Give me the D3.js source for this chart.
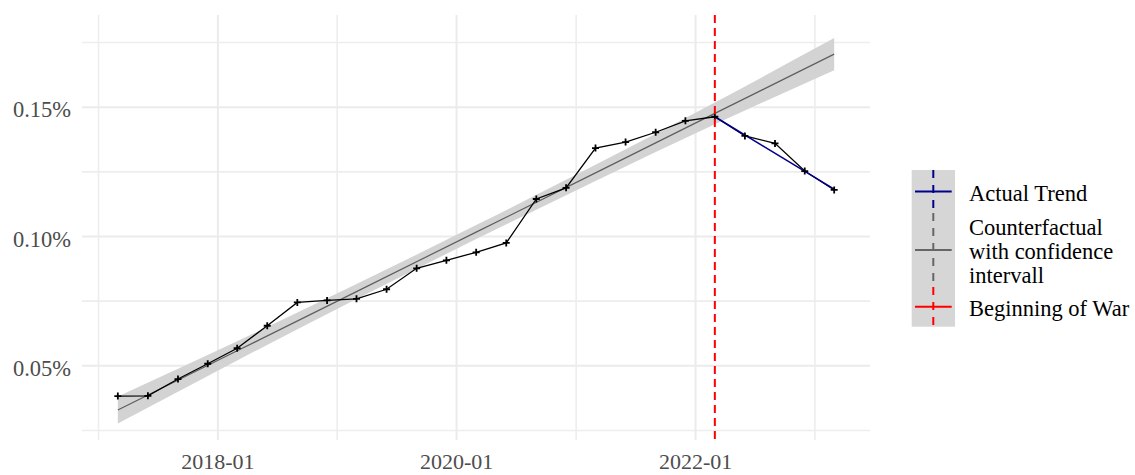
<!DOCTYPE html>
<html>
<head>
<meta charset="utf-8">
<script src="https://cdn.jsdelivr.net/npm/d3@7"></script>
<style>
    body { margin: 0; background: #fff; }
    text { font-family: "Liberation Serif", "Times New Roman", serif; }
</style>
</head>
<body>
<div class="div-chart"></div>
<script>
// observed share (%), quarterly
const obsDates = ["2017-03", "2017-06", "2017-09", "2017-12", "2018-03", "2018-06", "2018-09", "2018-12",
    "2019-03", "2019-06", "2019-09", "2019-12", "2020-03", "2020-06", "2020-09", "2020-12",
    "2021-03", "2021-06", "2021-09", "2021-12", "2022-03", "2022-06", "2022-09", "2022-12", "2023-03"];
const obsValues = [0.0383, 0.0384, 0.0449, 0.0508, 0.0568, 0.0655, 0.0745, 0.0753,
    0.0759, 0.0796, 0.0877, 0.0908, 0.0939, 0.0975, 0.1145, 0.1188,
    0.1342, 0.1365, 0.1403, 0.1447, 0.1463, 0.1389, 0.1360, 0.1253, 0.1180];

// counterfactual fit with confidence band
const cfDates = ["2017-03", "2018-03", "2019-03", "2020-03", "2021-03", "2022-03", "2023-03"];
const cfFit = [0.0329, 0.0558, 0.0787, 0.1017, 0.1246, 0.1476, 0.1705];
const cfLower = [0.0277, 0.0521, 0.0758, 0.0990, 0.1215, 0.1434, 0.1643];
const cfUpper = [0.0381, 0.0595, 0.0816, 0.1044, 0.1277, 0.1518, 0.1767];

// actual trend after the war started
const trendDates = ["2022-03", "2023-03"];
const trendValues = [0.1463, 0.1183];

const warDate = "2022-03";

const yMajor = [0.05, 0.10, 0.15];
const yMinor = [0.025, 0.075, 0.125, 0.175];
const xMajor = ["2018-01", "2020-01", "2022-01"];
const xMinor = ["2017-01", "2019-01", "2021-01", "2023-01"];

const legendLabels = [["Actual Trend"], ["Counterfactual", "with confidence", "intervall"], ["Beginning of War"]];
const legendColors = ["#00008b", "#666666", "#ff0000"];

const parse = d3.timeParse("%Y-%m");
const width = 1135, height = 475;
const panel = { left: 82, right: 870, top: 15, bottom: 440 };

const svg = d3.select('.div-chart')
    .append('svg')
    .attr('width', width)
    .attr('height', height);

// x scale: data range expanded 5% each side
const t0 = parse(obsDates[0]), t1 = parse(obsDates[obsDates.length - 1]);
const pad = (t1 - t0) * 0.05;
const x = d3.scaleTime()
    .domain([new Date(+t0 - pad), new Date(+t1 + pad)])
    .range([panel.left, panel.right]);

const y = d3.scaleLinear()
    .domain([0.02133, 0.18563])
    .range([panel.bottom, panel.top]);

// grid
const grid = svg.append("g");
grid.selectAll(".hminor").data(yMinor).enter().append("line")
    .attr("x1", panel.left).attr("x2", panel.right)
    .attr("y1", d => y(d)).attr("y2", d => y(d))
    .attr("stroke", "#ededed").attr("stroke-width", 1.6);
grid.selectAll(".hmajor").data(yMajor).enter().append("line")
    .attr("x1", panel.left).attr("x2", panel.right)
    .attr("y1", d => y(d)).attr("y2", d => y(d))
    .attr("stroke", "#ebebeb").attr("stroke-width", 2);
grid.selectAll(".vminor").data(xMinor).enter().append("line")
    .attr("x1", d => x(parse(d))).attr("x2", d => x(parse(d)))
    .attr("y1", panel.top).attr("y2", panel.bottom)
    .attr("stroke", "#ededed").attr("stroke-width", 1.6);
grid.selectAll(".vmajor").data(xMajor).enter().append("line")
    .attr("x1", d => x(parse(d))).attr("x2", d => x(parse(d)))
    .attr("y1", panel.top).attr("y2", panel.bottom)
    .attr("stroke", "#ebebeb").attr("stroke-width", 2);

// axis labels
svg.selectAll(".ylab").data(yMajor).enter().append("text")
    .attr("x", 71).attr("y", d => y(d) + 10)
    .attr("text-anchor", "end")
    .attr("font-size", "22.5px").attr("fill", "#4d4d4d")
    .text(d => d.toFixed(2) + "%");
svg.selectAll(".xlab").data(xMajor).enter().append("text")
    .attr("x", d => x(parse(d))).attr("y", 469)
    .attr("text-anchor", "middle")
    .attr("font-size", "22px").attr("fill", "#4d4d4d")
    .text(d => d);

// confidence band
const cf = cfDates.map((d, i) => ({ date: parse(d), fit: cfFit[i], lo: cfLower[i], hi: cfUpper[i] }));
svg.append("path")
    .datum(cf)
    .attr("fill", "#d3d3d3")
    .attr("d", d3.area().curve(d3.curveMonotoneX)
        .x(d => x(d.date)).y0(d => y(d.lo)).y1(d => y(d.hi)));
svg.append("path")
    .datum(cf)
    .attr("fill", "none").attr("stroke", "#5e5e5e").attr("stroke-width", 1.2)
    .attr("d", d3.line().x(d => x(d.date)).y(d => y(d.fit)));

// observed series
const obs = obsDates.map((d, i) => ({ date: parse(d), v: obsValues[i] }));
svg.append("path")
    .datum(obs)
    .attr("fill", "none").attr("stroke", "#000").attr("stroke-width", 1.3)
    .attr("d", d3.line().x(d => x(d.date)).y(d => y(d.v)));

// actual trend
const trend = trendDates.map((d, i) => ({ date: parse(d), v: trendValues[i] }));
svg.append("path")
    .datum(trend)
    .attr("fill", "none").attr("stroke", "#00008b").attr("stroke-width", 1.5)
    .attr("d", d3.line().x(d => x(d.date)).y(d => y(d.v)));

svg.selectAll(".pt").data(obs).enter().append("path")
    .attr("transform", d => `translate(${x(d.date)},${y(d.v)})`)
    .attr("d", "M-3.5,0H3.5M0,-3.5V3.5")
    .attr("stroke", "#000").attr("stroke-width", 1.8);

// war line
svg.append("line")
    .attr("x1", x(parse(warDate))).attr("x2", x(parse(warDate)))
    .attr("y1", panel.top).attr("y2", panel.bottom)
    .attr("stroke", "#ff0000").attr("stroke-width", 2)
    .attr("stroke-dasharray", "8,5");

// legend
const keyTops = [170, 213, 287, 326.7];
const leg = svg.append("g");
leg.append("rect")
    .attr("x", 911.7).attr("y", keyTops[0])
    .attr("width", 43.3).attr("height", keyTops[3] - keyTops[0])
    .attr("fill", "#d6d6d6");
legendLabels.forEach((lines, i) => {
    const top = keyTops[i], bot = keyTops[i + 1], mid = (top + bot) / 2;
    leg.append("line")
        .attr("x1", 933.3).attr("x2", 933.3)
        .attr("y1", top).attr("y2", bot)
        .attr("stroke", legendColors[i]).attr("stroke-width", 2)
        .attr("stroke-dasharray", "8,7");
    leg.append("line")
        .attr("x1", 915).attr("x2", 951.7)
        .attr("y1", mid).attr("y2", mid)
        .attr("stroke", legendColors[i]).attr("stroke-width", 2);
    lines.forEach((s, j) => {
        leg.append("text")
            .attr("x", 969)
            .attr("y", mid + 9 + (j - (lines.length - 1) / 2) * 24)
            .attr("font-size", "22.5px").attr("fill", "#000")
            .text(s);
    });
});
</script>
</body>
</html>
